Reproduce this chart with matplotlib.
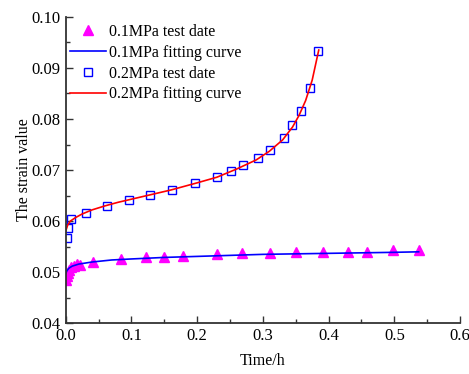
import matplotlib.pyplot as plt
from matplotlib.ticker import MultipleLocator

plt.rcParams['font.family'] = ['Liberation Serif', 'DejaVu Serif']

# 0.1 MPa test data
t1 = [0.001, 0.002, 0.003, 0.005, 0.008, 0.012, 0.017, 0.022, 0.042, 0.084,
      0.122, 0.150, 0.178, 0.230, 0.269, 0.311, 0.351, 0.391, 0.430, 0.458,
      0.498, 0.537]
s1 = [0.0485, 0.0492, 0.0499, 0.0505, 0.0510, 0.0513, 0.0516, 0.0515, 0.0521, 0.0526,
      0.0530, 0.0530, 0.0532, 0.0535, 0.0537, 0.0537, 0.0539, 0.0539, 0.0539, 0.0540,
      0.0543, 0.0543]

# 0.1 MPa fitting curve
f1_t = [0.0, 0.002, 0.005, 0.01, 0.02, 0.04, 0.07, 0.1, 0.15, 0.2,
        0.25, 0.3, 0.35, 0.4, 0.45, 0.5, 0.537]
f1_s = [0.0497, 0.0503, 0.0508, 0.0512, 0.0516, 0.0520, 0.0524, 0.0526, 0.0529, 0.0531,
        0.0533, 0.0535, 0.0536, 0.0537, 0.0538, 0.0539, 0.0540]

# 0.2 MPa test data
t2 = [0.002, 0.004, 0.008, 0.031, 0.063, 0.097, 0.129, 0.162, 0.196, 0.230,
      0.252, 0.270, 0.292, 0.311, 0.332, 0.345, 0.358, 0.371, 0.384]
s2 = [0.0568, 0.0587, 0.0604, 0.0615, 0.0630, 0.0641, 0.0651, 0.0661, 0.0675, 0.0687,
      0.0698, 0.0710, 0.0724, 0.0740, 0.0763, 0.0788, 0.0816, 0.0861, 0.0933]

# 0.2 MPa fitting curve
f2_t = [0.0, 0.003, 0.007, 0.015, 0.025, 0.04, 0.06, 0.08, 0.1, 0.13,
        0.16, 0.2, 0.23, 0.26, 0.29, 0.31, 0.33, 0.345, 0.355, 0.365,
        0.375, 0.385]
f2_s = [0.0580, 0.0592, 0.0600, 0.0607, 0.0614, 0.0622, 0.0630, 0.0637, 0.0643, 0.0652,
        0.0661, 0.0675, 0.0686, 0.0702, 0.0720, 0.0737, 0.0759, 0.0784, 0.0807, 0.0836,
        0.0876, 0.0935]

fig = plt.figure(figsize=(4.69, 3.74), dpi=100)
ax = fig.add_axes([0.140, 0.1355, 0.841, 0.8195])

ax.plot(t1, s1, '^', color='#FF00FF', markersize=7, label='0.1MPa test date')
ax.plot(f1_t, f1_s, '-', color='#0000FF', lw=1.2, label='0.1MPa fitting curve')
ax.plot(t2, s2, 's', mfc='none', mec='#0000FF', mew=1.0, markersize=6,
        label='0.2MPa test date')
ax.plot(f2_t, f2_s, '-', color='#FF0000', lw=1.2, label='0.2MPa fitting curve')

ax.set_xlim(0, 0.6)
ax.set_ylim(0.04, 0.10)
ax.xaxis.set_major_locator(MultipleLocator(0.1))
ax.xaxis.set_minor_locator(MultipleLocator(0.05))
ax.yaxis.set_major_locator(MultipleLocator(0.01))
ax.yaxis.set_minor_locator(MultipleLocator(0.005))
ax.xaxis.set_major_formatter(lambda v, p: f'{v:.1f}')
ax.yaxis.set_major_formatter(lambda v, p: f'{v:.2f}')
ax.tick_params(which='both', direction='in', labelsize=12, width=1, color='#333333')
ax.tick_params(which='major', length=5)
ax.tick_params(which='minor', length=3)
ax.spines['top'].set_visible(False)
ax.spines['right'].set_visible(False)
for sp in ('left', 'bottom'):
    ax.spines[sp].set_linewidth(1.3)
    ax.spines[sp].set_color('#333333')

ax.set_xlabel('Time/h', fontsize=11.5, labelpad=6)
ax.set_ylabel('The strain value', fontsize=11.5, labelpad=0)

ax.legend(loc='upper left', frameon=False, fontsize=11.5, handlelength=2.3,
          borderaxespad=0.0, borderpad=0.45, labelspacing=0.3, handletextpad=0.15,
          bbox_to_anchor=(-0.008, 1.0))

fig.savefig('out.png', dpi=100)
